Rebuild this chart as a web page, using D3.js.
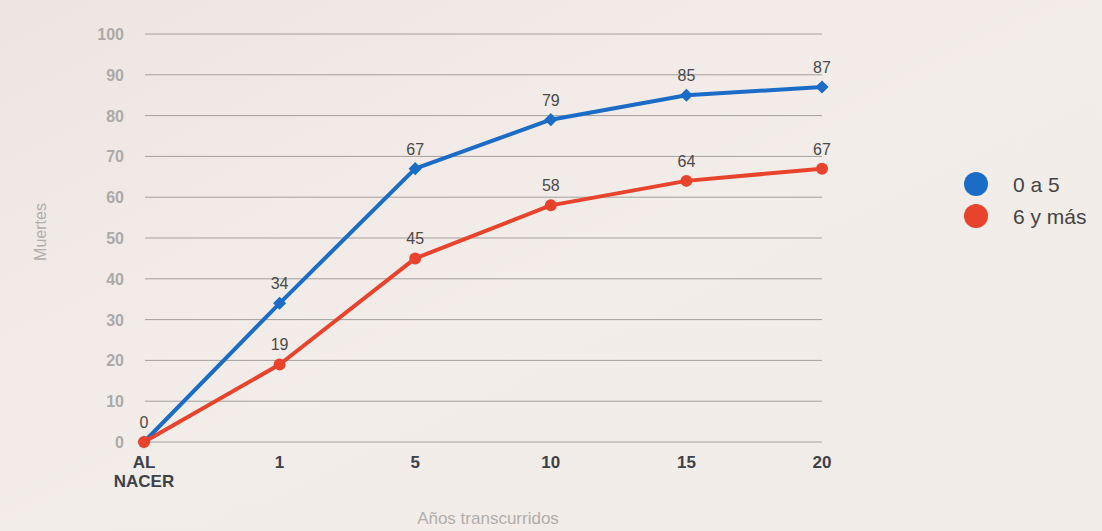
<!DOCTYPE html>
<html><head><meta charset="utf-8">
<script src="https://cdn.jsdelivr.net/npm/d3@7"></script>
<style>
html,body{margin:0;padding:0;}
body{width:1102px;height:531px;overflow:hidden;background:#f1ebe7;font-family:"Liberation Sans",Arial,sans-serif;}
</style></head><body>
<svg id="c" width="1102" height="531"></svg>
<script>
const categories = ["AL NACER","1","5","10","15","20"];
const serie05 = [0,34,67,79,85,87];
const serie6 = [0,19,45,58,64,67];
const seriesNames = ["0 a 5","6 y más"];
const yTicks = [0,10,20,30,40,50,60,70,80,90,100];

const svg = d3.select("#c");
const defs = svg.append("defs");
const g0 = defs.append("linearGradient").attr("id","bg").attr("x1","0").attr("y1","0").attr("x2","1").attr("y2","1");
g0.append("stop").attr("offset","0").attr("stop-color","#eee5e2");
g0.append("stop").attr("offset","0.5").attr("stop-color","#f3ede9");
g0.append("stop").attr("offset","1").attr("stop-color","#f2ece9");
svg.append("rect").attr("width",1102).attr("height",531).attr("fill","url(#bg)");

const x = d3.scalePoint().domain(categories).range([144,822]);
const y = d3.scaleLinear().domain([0,100]).range([442,34]);

// grid
svg.append("g").selectAll("line").data(yTicks).join("line")
  .attr("x1",145).attr("x2",822)
  .attr("y1",d=>y(d)).attr("y2",d=>y(d))
  .attr("stroke","#a3a09d").attr("stroke-width",1);

// y tick labels
svg.append("g").selectAll("text").data(yTicks).join("text")
  .attr("x",124).attr("y",d=>y(d)+6)
  .attr("text-anchor","end").attr("font-size",16).attr("font-weight","bold")
  .attr("fill","#abaaa9").text(d=>d);

// x labels
const xl = svg.append("g").selectAll("text").data(categories).join("text")
  .attr("x",d=>x(d)).attr("y",468)
  .attr("text-anchor","middle").attr("font-size",17).attr("font-weight","bold")
  .attr("fill","#3d4248");
xl.each(function(d){
  const t=d3.select(this);
  const parts=d.split(" ");
  parts.forEach((p,i)=>t.append("tspan").attr("x",x(d)).attr("dy",i===0?0:19).text(p));
});

// axis titles
svg.append("text").attr("x",488).attr("y",524).attr("text-anchor","middle")
  .attr("font-size",17).attr("fill","#b0aeac").text("Años transcurridos");
svg.append("text").attr("transform","translate(46,232) rotate(-90)").attr("text-anchor","middle")
  .attr("font-size",16).attr("fill","#b0aeac").text("Muertes");

const line = d3.line().x((d,i)=>x(categories[i])).y(d=>y(d));
const blue="#1b6cc6", red="#e8432d";

svg.append("path").datum(serie05).attr("d",line).attr("fill","none").attr("stroke",blue).attr("stroke-width",4).attr("stroke-linejoin","round");
svg.append("path").datum(serie6).attr("d",line).attr("fill","none").attr("stroke",red).attr("stroke-width",4).attr("stroke-linejoin","round");

// blue diamonds
svg.append("g").selectAll("path").data(serie05).join("path")
  .attr("transform",(d,i)=>`translate(${x(categories[i])},${y(d)})`)
  .attr("d",d3.symbol(d3.symbolDiamond2,110)).attr("fill",blue);
// red circles
svg.append("g").selectAll("circle").data(serie6).join("circle")
  .attr("cx",(d,i)=>x(categories[i])).attr("cy",d=>y(d)).attr("r",6).attr("fill",red);

// value labels
const lab = (data)=> svg.append("g").selectAll("text").data(data).join("text")
  .attr("y",d=>y(d)-14)
  .attr("text-anchor","middle").attr("font-size",16).attr("fill","#4a4a4a").text(d=>d);
lab(serie05.slice(1)).attr("x",(d,i)=>x(categories[i+1]));
lab(serie6).attr("x",(d,i)=>x(categories[i]));

// legend
const leg = svg.append("g");
[blue,red].forEach((c,i)=>{
  leg.append("circle").attr("cx",976).attr("cy",184+i*32).attr("r",12).attr("fill",c);
  leg.append("text").attr("x",1013).attr("y",192+i*32).attr("font-size",21).attr("fill","#444").text(seriesNames[i]);
});
</script>
</body></html>
